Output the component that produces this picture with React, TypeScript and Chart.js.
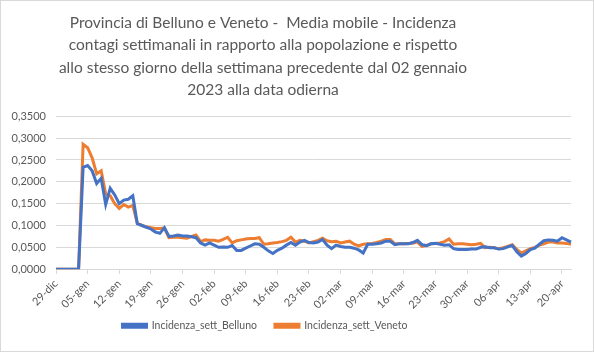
import React, { useEffect, useRef } from "react";
import { Chart, registerables } from "chart.js";

Chart.register(...registerables);

const monthNames = ["gen", "feb", "mar", "apr"];
const monthDays = [31, 28, 31, 30];
const titleLines = [
  "Provincia di Belluno e Veneto -  Media mobile - Incidenza",
  "contagi settimanali in rapporto alla popolazione e rispetto",
  "allo stesso giorno della settimana precedente dal 02 gennaio",
  "2023 alla data odierna",
];

// Daily categories from 29-dic to 22-apr
const categories: string[] = ["29-dic", "30-dic", "31-dic"];
for (let m = 0; m < monthNames.length; m++) {
  for (let d = 1; d <= monthDays[m]; d++) {
    if (m === 3 && d > 22) break;
    categories.push(String(d).padStart(2, "0") + "-" + monthNames[m]);
  }
}

const tickLabels = [
  "29-dic", "05-gen", "12-gen", "19-gen", "26-gen", "02-feb", "09-feb", "16-feb",
  "23-feb", "02-mar", "09-mar", "16-mar", "23-mar", "30-mar", "06-apr", "13-apr", "20-apr",
];

const belluno = [
  0, 0, 0, 0, 0, 0, 0.233, 0.237, 0.225, 0.196, 0.208, 0.148, 0.185, 0.17, 0.15, 0.158,
  0.16, 0.168, 0.104, 0.1, 0.096, 0.092, 0.085, 0.082, 0.095, 0.075, 0.076, 0.078, 0.076, 0.076,
  0.074, 0.072, 0.06, 0.055, 0.06, 0.055, 0.05, 0.051, 0.05, 0.054, 0.043, 0.043, 0.048, 0.053,
  0.058, 0.057, 0.05, 0.042, 0.036, 0.043, 0.048, 0.055, 0.061, 0.055, 0.062, 0.066, 0.061, 0.06,
  0.062, 0.068, 0.055, 0.047, 0.055, 0.052, 0.05, 0.05, 0.048, 0.044, 0.037, 0.057, 0.057, 0.058,
  0.06, 0.064, 0.064, 0.056, 0.058, 0.058, 0.058, 0.061, 0.066, 0.056, 0.054, 0.058, 0.059, 0.057,
  0.055, 0.056, 0.047, 0.045, 0.045, 0.045, 0.046, 0.046, 0.05, 0.051, 0.049, 0.049, 0.046, 0.047,
  0.051, 0.054, 0.04, 0.03, 0.036, 0.045, 0.048, 0.057, 0.065, 0.067, 0.066, 0.064, 0.072, 0.067,
  0.062,
];

const veneto = [
  0, 0, 0, 0, 0, 0, 0.286, 0.278, 0.255, 0.218, 0.225, 0.172, 0.168, 0.15, 0.139, 0.148,
  0.142, 0.146, 0.105, 0.101, 0.097, 0.095, 0.093, 0.093, 0.094, 0.072, 0.073, 0.073, 0.072, 0.071,
  0.075, 0.078, 0.063, 0.067, 0.066, 0.066, 0.064, 0.068, 0.073, 0.06, 0.065, 0.067, 0.069, 0.07,
  0.07, 0.072, 0.057, 0.058, 0.06, 0.061, 0.063, 0.066, 0.073, 0.062, 0.066, 0.064, 0.06, 0.063,
  0.066, 0.071, 0.065, 0.063, 0.064, 0.06, 0.062, 0.064, 0.057, 0.053, 0.057, 0.058, 0.059, 0.061,
  0.064, 0.068, 0.068, 0.058, 0.058, 0.058, 0.059, 0.06, 0.062, 0.052, 0.054, 0.058, 0.059, 0.06,
  0.063, 0.069, 0.057, 0.058, 0.058, 0.057, 0.056, 0.057, 0.059, 0.049, 0.05, 0.049, 0.047, 0.049,
  0.052, 0.056, 0.045, 0.037, 0.042, 0.047, 0.05, 0.055, 0.058, 0.062, 0.062, 0.06, 0.06, 0.059,
  0.057,
];

const FONT = "Lato";
const TEXT = "#595959";
const GRID = "#d9d9d9";

// Shift title and legend so they sit where the reference places them
const shiftPlugin = {
  id: "shiftBlocks",
  afterLayout(chart: any) {
    const t = chart.titleBlock;
    if (t) {
      t.left -= 27;
      t.right -= 27;
    }
    const l = chart.legend;
    if (l) {
      l.left -= 25;
      l.right -= 25;
      l.top -= 12;
      l.bottom -= 12;
    }
  },
};

export default function App() {
  const ref = useRef<HTMLCanvasElement | null>(null);
  useEffect(() => {
    document.body.style.margin = "0";
    const ctx = ref.current!;
    const chart = new Chart(ctx, {
      type: "line",
      data: {
        labels: categories,
        datasets: [
          {
            label: "Incidenza_sett_Belluno",
            data: belluno,
            borderColor: "#4472C4",
            backgroundColor: "#4472C4",
            borderWidth: 3,
            pointRadius: 0,
            tension: 0,
          },
          {
            label: "Incidenza_sett_Veneto",
            data: veneto,
            borderColor: "#ED7D31",
            backgroundColor: "#ED7D31",
            borderWidth: 3,
            pointRadius: 0,
            tension: 0,
          },
        ],
      },
      plugins: [shiftPlugin],
      options: {
        animation: false,
        responsive: false,
        maintainAspectRatio: false,
        layout: { padding: { left: 8, right: 22, top: 0, bottom: -2 } },
        plugins: {
          title: {
            display: true,
            text: titleLines,
            color: TEXT,
            font: { family: FONT, size: 15.5, weight: "normal", lineHeight: 1.44 },
            padding: { top: 11, bottom: 15 },
          },
          legend: {
            position: "bottom",
            labels: {
              color: TEXT,
              font: { family: FONT, size: 10.5 },
              boxWidth: 24,
              boxHeight: 3,
              padding: 18,
            },
          },
          tooltip: { enabled: false },
        },
        scales: {
          x: {
            type: "category",
            offset: false,
            grid: {
              drawOnChartArea: false,
              drawTicks: true,
              tickLength: 5,
              color: (c: any) =>
                tickLabels.includes(categories[c.index]) ? GRID : "rgba(0,0,0,0)",
            },
            border: { color: GRID },
            ticks: {
              autoSkip: false,
              maxRotation: 45,
              minRotation: 45,
              padding: 3,
              color: TEXT,
              font: { family: FONT, size: 11 },
              callback: (v: any, i: number) =>
                tickLabels.includes(categories[i]) ? categories[i] : "",
            },
          },
          y: {
            min: 0,
            max: 0.35,
            afterFit: (axis: any) => {
              axis.width = 47;
            },
            ticks: {
              stepSize: 0.05,
              color: TEXT,
              font: { family: FONT, size: 11 },
              padding: 10,
              callback: (v: any) => Number(v).toFixed(4).replace(".", ","),
            },
            grid: { color: GRID, drawTicks: false },
            border: { display: false },
          },
        },
      },
    });
    return () => chart.destroy();
  }, []);
  return (
    <div style={{ width: 594, height: 352, position: "relative", boxSizing: "border-box", border: "1px solid #d9d9d9", background: "#fff" }}>
      <canvas ref={ref} width={592} height={350} style={{ display: "block" }} />
    </div>
  );
}
